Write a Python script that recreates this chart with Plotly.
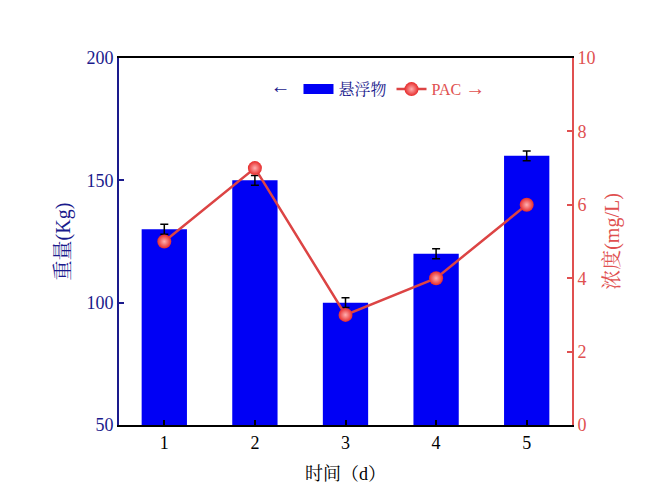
import plotly.graph_objects as go

# data
days = [1, 2, 3, 4, 5]
weight = [130, 150, 100, 120, 160]
weight_err = [2, 2, 2, 2, 2]
pac = [5, 7, 3, 4, 6]

navy = '#1a1a8c'
red = '#e05050'
serif = 'Liberation Serif, Times New Roman, Noto Serif CJK SC, Noto Sans CJK SC'

fig = go.Figure()

fig.add_trace(go.Bar(
    x=days, y=weight, showlegend=False,
    marker=dict(color='#0000f5', line=dict(width=0)),
    width=0.5,
    error_y=dict(type='data', array=weight_err, color='black', thickness=1.5, width=4),
    yaxis='y',
))

# legend entry for the bars (wide blue block like the original)
fig.add_trace(go.Scatter(
    x=[None], y=[None], mode='lines',
    name='<span style="color:%s">悬浮物</span>' % navy,
    line=dict(color='#0000f5', width=16),
))

fig.add_trace(go.Scatter(
    x=days, y=pac, mode='lines+markers',
    name='<span style="color:%s">PAC <span style="font-size:20px">→</span></span>' % red,
    line=dict(color='#dc4444', width=2.5),
    marker=dict(size=14, color='#e62a2a',
                gradient=dict(type='radial', color='#ffb0b0'),
                line=dict(width=0)),
    yaxis='y2',
))

fig.update_layout(
    width=667, height=500,
    margin=dict(l=111, r=103, t=50, b=83),
    plot_bgcolor='white', paper_bgcolor='white',
    font=dict(family=serif, size=18, color='black'),
    showlegend=True,
    legend=dict(orientation='h', x=0.33, y=0.915, xanchor='left', yanchor='middle',
                bgcolor='rgba(0,0,0,0)', font=dict(size=16), itemwidth=30,
                title=dict(text='<span style="font-size:20px">←</span>', side='left',
                           font=dict(color=navy, size=16))),
    bargap=0.5,
    xaxis=dict(
        range=[0.5, 5.5], tickvals=days, ticks='inside', ticklen=5, tickwidth=1.5,
        tickcolor='black', showline=True, linecolor='black', linewidth=2, mirror=True,
        showgrid=False, zeroline=False,
        title=dict(text='时间（d）', font=dict(size=18), standoff=16),
    ),
    yaxis=dict(
        range=[50, 200], tickvals=[50, 100, 150, 200], ticks='inside', ticklen=5,
        tickwidth=2, tickcolor=navy, showline=True, linecolor=navy, linewidth=2,
        showgrid=False, zeroline=False, tickfont=dict(color=navy, size=18),
        title=dict(text='重量(Kg)', font=dict(color=navy, size=20), standoff=10),
    ),
    yaxis2=dict(
        range=[0, 10], tickvals=[0, 2, 4, 6, 8, 10], overlaying='y', side='right',
        ticks='inside', ticklen=5, tickwidth=2, tickcolor=red, showline=True,
        linecolor=red, linewidth=2, showgrid=False, zeroline=False,
        tickfont=dict(color=red, size=18),
        title=dict(text='浓度(mg/L)', font=dict(color=red, size=20), standoff=10),
    ),
)

fig.write_html('out.html')
